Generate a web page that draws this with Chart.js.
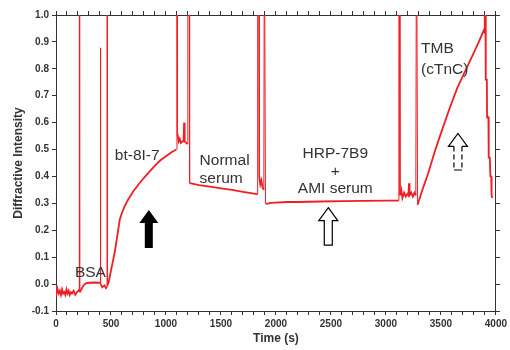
<!DOCTYPE html>
<html>
<head>
<meta charset="utf-8">
<script src="https://cdn.jsdelivr.net/npm/chart.js@4.4.1/dist/chart.umd.min.js"></script>
<style>
  html, body { margin: 0; padding: 0; background: #fff; }
  #wrap { width: 510px; height: 350px; }
</style>
</head>
<body>
<div id="wrap"><canvas id="chart" width="510" height="350"></canvas></div>
<script>
// time (s) and diffractive intensity
const timeS = [
  0, 8, 15, 25, 35, 45, 55, 65, 75, 85, 95, 105, 115, 125, 135, 145, 160, 175, 190, 205,
  211, 212, 214, 215, 230, 250, 270, 300, 350, 400,
  404, 405, 406, 420, 440, 455,
  464, 465, 467, 468, 480, 490, 500, 520, 535, 550, 565, 580, 600, 625, 650, 700, 750,
  800, 850, 900, 950, 1000, 1050, 1095,
  1099, 1100, 1102, 1104, 1115, 1125, 1135, 1150, 1160, 1165, 1170, 1185, 1197,
  1199, 1212, 1215, 1250, 1300, 1400, 1500, 1600, 1700, 1800, 1832,
  1834, 1846, 1848, 1858, 1868, 1878, 1890, 1893, 1898, 1905, 1920, 1950, 2000, 2100,
  2200, 2400, 2600, 2800, 3000, 3115,
  3118, 3124, 3128, 3140, 3150, 3165, 3180, 3195, 3205, 3210, 3215, 3230, 3245, 3260, 3272,
  3276, 3282, 3288, 3300, 3340, 3383, 3450, 3500, 3574, 3650, 3740, 3800, 3850, 3891, 3897,
  3899, 3905, 3908, 3918, 3920, 3932, 3935, 3945, 3950, 3958, 3961, 3968
];
const intensity = [
  -0.005, -0.03, -0.02, -0.035, -0.025, -0.04, -0.02, -0.035, -0.03, -0.04, -0.02, -0.035, -0.025, -0.04, -0.03, -0.035, -0.025, -0.04, -0.03, -0.025,
  -0.02, 1.05, 1.05, -0.03, -0.02, -0.005, 0.003, 0.005, 0.006, 0.005,
  0.005, 0.878, 0.0, -0.012, -0.005, -0.015,
  -0.01, 1.05, 1.05, -0.005, 0.01, 0.03, 0.05, 0.09, 0.12, 0.16, 0.2, 0.24, 0.265, 0.29, 0.31, 0.343, 0.37,
  0.395, 0.418, 0.44, 0.46, 0.475, 0.49, 0.5,
  0.5, 1.05, 1.05, 0.56, 0.53, 0.54, 0.525, 0.53, 0.53, 0.6, 0.53, 0.525, 0.52,
  1.05, 1.05, 0.375, 0.372, 0.368, 0.362, 0.356, 0.35, 0.343, 0.336, 0.333,
  1.05, 1.05, 0.40, 0.37, 0.385, 0.36, 0.35, 1.05, 1.05, 0.30, 0.298, 0.302, 0.303, 0.305,
  0.305, 0.307, 0.308, 0.309, 0.31, 0.31,
  1.05, 1.05, 0.33, 0.35, 0.32, 0.34, 0.325, 0.335, 0.33, 0.375, 0.33, 0.34, 0.325, 0.34, 0.33,
  1.05, 1.05, 0.295, 0.31, 0.36, 0.41, 0.5, 0.56, 0.647, 0.73, 0.808, 0.86, 0.905, 0.944, 0.935,
  1.05, 1.05, 0.76, 0.76, 0.62, 0.62, 0.47, 0.47, 0.40, 0.40, 0.33, 0.32
];
const xMajorTicks = [0, 500, 1000, 1500, 2000, 2500, 3000, 3500, 4000];

// step labels and arrows, placed in data units
const stepText = ['BSA', 'bt-8I-7', 'Normal', 'serum', 'HRP-7B9', '+', 'AMI serum', 'TMB', '(cTnC)'];
const stepTime = [313, 535, 1306, 1306, 2540, 2540, 2540, 3320, 3320];
const stepLevel = [0.041, 0.476, 0.457, 0.39, 0.483, 0.416, 0.353, 0.874, 0.796];
const stepAlign = ['center', 'left', 'left', 'left', 'center', 'center', 'center', 'left', 'left'];

const arrowTime = [844, 2476, 3655];
const arrowTop = [0.275, 0.284, 0.56];
const arrowBottom = [0.134, 0.145, 0.424];
const arrowKind = ['solid', 'hollow', 'dashed'];

const points = timeS.map((t, i) => ({ x: t, y: intensity[i] }));
const FONT = '"Liberation Sans", Arial, sans-serif';
const AXIS = '#333';

function drawArrow(ctx, cx, yt, yb, kind) {
  const yh = yt + 13, hw = 9.5, sw = 4;
  ctx.lineWidth = 1.2;
  ctx.strokeStyle = '#000';
  ctx.beginPath();
  ctx.moveTo(cx, yt);
  ctx.lineTo(cx + hw, yh);
  ctx.lineTo(cx + sw, yh);
  ctx.lineTo(cx + sw, yb);
  ctx.lineTo(cx - sw, yb);
  ctx.lineTo(cx - sw, yh);
  ctx.lineTo(cx - hw, yh);
  ctx.closePath();
  if (kind === 'solid') {
    ctx.fillStyle = '#000';
    ctx.fill();
    return;
  }
  ctx.fillStyle = '#fff';
  ctx.fill();
  if (kind === 'hollow') {
    ctx.stroke();
    return;
  }
  // dashed shaft, solid head
  ctx.beginPath();
  ctx.moveTo(cx - sw, yh);
  ctx.lineTo(cx - hw, yh);
  ctx.lineTo(cx, yt);
  ctx.lineTo(cx + hw, yh);
  ctx.lineTo(cx + sw, yh);
  ctx.moveTo(cx - sw, yb);
  ctx.lineTo(cx + sw, yb);
  ctx.stroke();
  ctx.setLineDash([5, 3]);
  ctx.beginPath();
  ctx.moveTo(cx - sw, yh);
  ctx.lineTo(cx - sw, yb);
  ctx.moveTo(cx + sw, yh);
  ctx.lineTo(cx + sw, yb);
  ctx.stroke();
  ctx.setLineDash([]);
}

const annotate = {
  id: 'annotate',
  afterDatasetsDraw(chart) {
    const { ctx, scales: { x, y } } = chart;
    ctx.save();
    ctx.fillStyle = '#333';
    ctx.font = '15.5px ' + FONT;
    ctx.textBaseline = 'middle';
    stepText.forEach((txt, i) => {
      ctx.textAlign = stepAlign[i];
      ctx.fillText(txt, x.getPixelForValue(stepTime[i]), y.getPixelForValue(stepLevel[i]));
    });
    arrowTime.forEach((t, i) => {
      drawArrow(ctx, x.getPixelForValue(t), y.getPixelForValue(arrowTop[i]),
        y.getPixelForValue(arrowBottom[i]), arrowKind[i]);
    });
    ctx.restore();
  }
};

const edgeGrid = { drawOnChartArea: false, tickLength: 4, tickColor: AXIS, tickWidth: 1 };
const edgeBorder = { color: AXIS, width: 1 };

new Chart(document.getElementById('chart'), {
  type: 'line',
  data: {
    datasets: [{
      data: points,
      borderColor: '#f01e24',
      borderWidth: 1.8,
      pointRadius: 0,
      tension: 0,
      segment: {
        borderWidth: c => Math.abs(c.p1.parsed.y - c.p0.parsed.y) > 0.3 ? 1 : 1.8
      }
    }]
  },
  options: {
    responsive: false,
    animation: false,
    layout: { padding: 0 },
    plugins: { legend: { display: false }, tooltip: { enabled: false } },
    scales: {
      x: {
        type: 'linear', position: 'bottom', min: 0, max: 4000,
        ticks: {
          stepSize: 100, autoSkip: false, maxRotation: 0, color: AXIS, padding: 3,
          font: { family: FONT, size: 10, weight: 'bold' },
          callback: v => xMajorTicks.includes(v) ? String(v) : ''
        },
        grid: edgeGrid, border: edgeBorder,
        title: {
          display: true, text: 'Time (s)', color: AXIS,
          font: { family: FONT, size: 12, weight: 'bold' }, padding: { top: 0, bottom: 4 }
        },
        afterFit: s => { s.height = 39; }
      },
      x2: {
        type: 'linear', position: 'top', min: 0, max: 4000,
        ticks: { stepSize: 100, display: false },
        grid: edgeGrid, border: edgeBorder,
        afterFit: s => { s.height = 15; }
      },
      y: {
        min: -0.1, max: 1.0,
        ticks: {
          stepSize: 0.1, color: AXIS, padding: 3,
          font: { family: FONT, size: 10, weight: 'bold' },
          callback: v => v.toFixed(1)
        },
        grid: edgeGrid, border: edgeBorder,
        title: {
          display: true, text: 'Diffractive Intensity', color: AXIS,
          font: { family: FONT, size: 12, weight: 'bold' }, padding: { top: 11, bottom: 0 }
        },
        afterFit: s => { s.width = 56; }
      },
      y2: {
        position: 'right', min: -0.1, max: 1.0,
        ticks: { stepSize: 0.1, display: false },
        grid: edgeGrid, border: edgeBorder,
        afterFit: s => { s.width = 13; }
      }
    }
  },
  plugins: [annotate]
});
</script>
</body>
</html>
